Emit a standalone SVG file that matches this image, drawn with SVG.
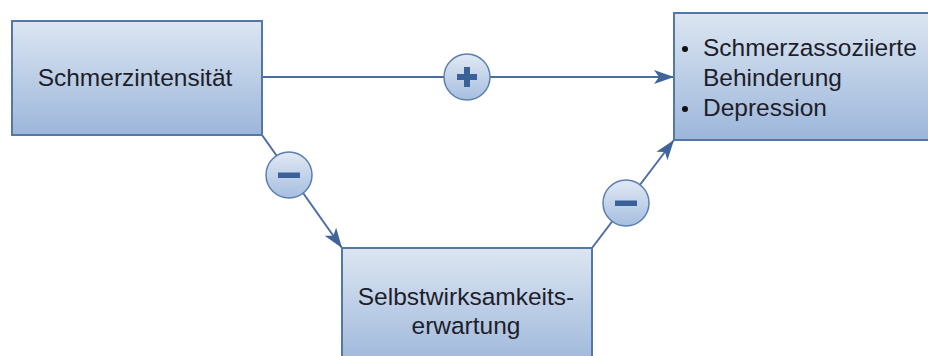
<svg xmlns="http://www.w3.org/2000/svg" width="928" height="356" viewBox="0 0 928 356">
  <defs>
    <linearGradient id="boxFill" x1="0" y1="0" x2="0" y2="1">
      <stop offset="0" stop-color="#dce6f2"/>
      <stop offset="1" stop-color="#9cb6da"/>
    </linearGradient>
    <linearGradient id="signFill" x1="0" y1="0" x2="0" y2="1">
      <stop offset="0" stop-color="#e1e9f4"/>
      <stop offset="1" stop-color="#a6bee0"/>
    </linearGradient>
    <marker id="arrow" viewBox="0 0 20 14" refX="20" refY="7" markerWidth="20" markerHeight="14" markerUnits="userSpaceOnUse" orient="auto">
      <path d="M0,0 L20,7 L0,14 L5,7 Z" fill="#3e6498"/>
    </marker>
  </defs>
  <style>
    .box { fill: url(#boxFill); stroke: #5577a6; stroke-width: 2; }
    .label { font-family: "Liberation Sans", Arial, sans-serif; font-size: 24.5px; fill: #1e1e2a; }
    .conn { stroke: #4a6ea3; stroke-width: 2; fill: none; marker-end: url(#arrow); }
    .sign { fill: url(#signFill); stroke: #5c7fb0; stroke-width: 1.5; }
    .mark { fill: #3b6298; }
  </style>
  <rect width="928" height="356" fill="#ffffff"/>

  <g id="connectors">
    <line class="conn" x1="262" y1="77" x2="674" y2="77"/>
    <line class="conn" x1="262" y1="135" x2="342" y2="248"/>
    <line class="conn" x1="592" y1="248" x2="674" y2="140"/>
  </g>

  <g id="sign-plus">
    <circle class="sign" cx="467" cy="77" r="23"/>
    <rect class="mark" x="457" y="74" width="20" height="6"/>
    <rect class="mark" x="464" y="67" width="6" height="20"/>
  </g>
  <g id="sign-minus-left">
    <circle class="sign" cx="289" cy="175" r="23"/>
    <rect class="mark" x="278" y="172.5" width="22" height="5.5"/>
  </g>
  <g id="sign-minus-right">
    <circle class="sign" cx="626" cy="203" r="23"/>
    <rect class="mark" x="615" y="200.5" width="22" height="5.5"/>
  </g>

  <g id="node-intensity">
    <rect class="box" x="12" y="21" width="250" height="114"/>
    <text class="label" x="135" y="86" text-anchor="middle">Schmerzintensität</text>
  </g>

  <g id="node-outcomes">
    <rect class="box" x="674" y="13" width="270" height="127"/>
    <circle cx="685" cy="49" r="3" fill="#111"/>
    <circle cx="685" cy="109" r="3" fill="#111"/>
    <text class="label" x="703" y="56">Schmerzassoziierte</text>
    <text class="label" x="703" y="86">Behinderung</text>
    <text class="label" x="703" y="116">Depression</text>
  </g>

  <g id="node-selfefficacy">
    <rect class="box" x="342" y="248" width="250" height="120"/>
    <text class="label" x="466" y="305" text-anchor="middle">Selbstwirksamkeits-</text>
    <text class="label" x="466" y="334" text-anchor="middle">erwartung</text>
  </g>
</svg>
